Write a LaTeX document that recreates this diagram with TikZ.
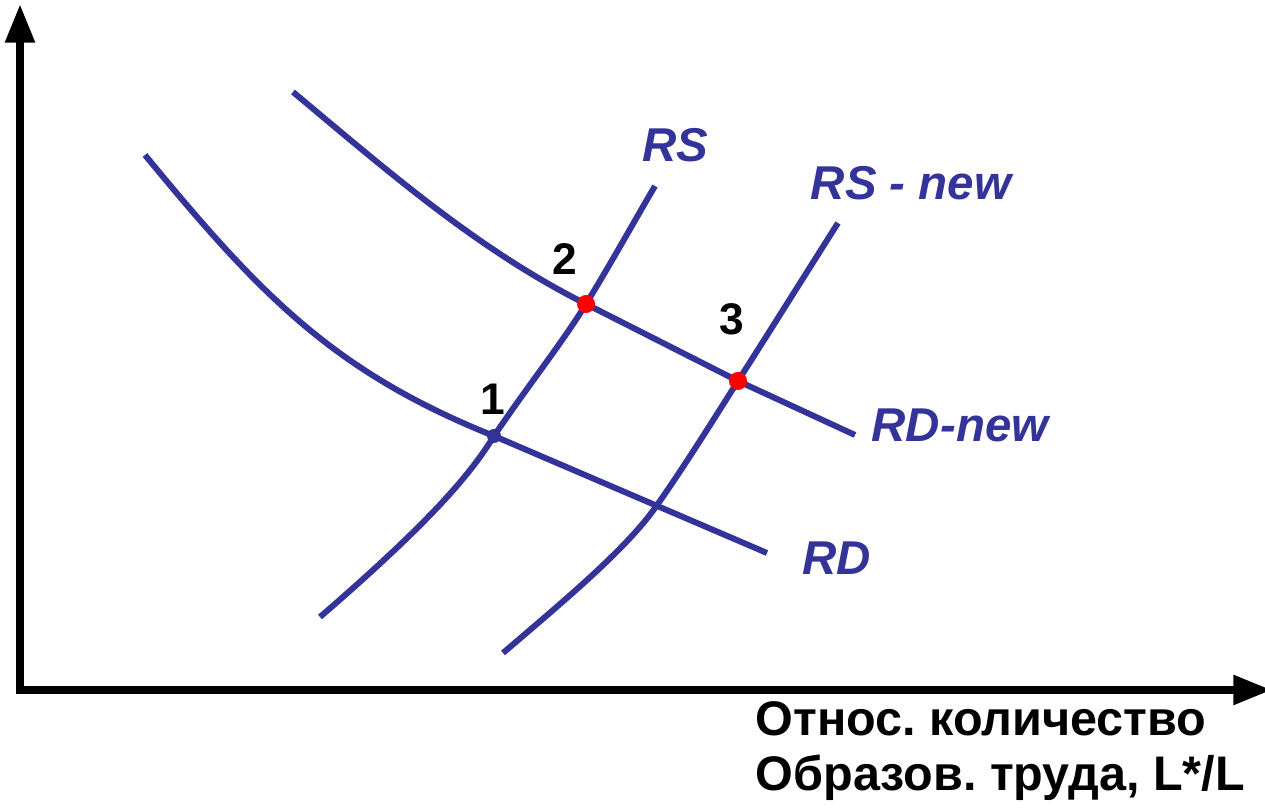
\documentclass[tikz,border=0pt]{standalone}
\usepackage{fontspec}
\setmainfont{Liberation Sans}
\usetikzlibrary{arrows.meta}
\definecolor{curveblue}{RGB}{51,51,153}
\definecolor{dotred}{RGB}{255,0,0}
\frenchspacing
\begin{document}
\begin{tikzpicture}[x=0.01cm, y=-0.01cm,
    axis/.style={
        line width=2.3pt,
        {Triangle[length=11pt,width=8pt]}-{Triangle[length=11pt,width=8pt]}
    },
    curve/.style={curveblue, line width=1.7pt},
    curve label/.style={curveblue, anchor=base, inner sep=0pt,
        font=\fontsize{13.5}{16}\selectfont\bfseries\itshape},
    point label/.style={anchor=base, inner sep=0pt,
        font=\fontsize{12.6}{14}\selectfont\bfseries},
    axis label/.style={anchor=base west, inner sep=0pt,
        font=\fontsize{13.8}{16}\selectfont\bfseries},
    eq point/.style={circle, fill=#1, inner sep=0pt, minimum size=0.18cm}
]
    \useasboundingbox (0,0) rectangle (1265,810);

    % оси
    \coordinate (ytop) at (20,4);
    \coordinate (o) at (20,690);
    \coordinate (xend) at (1272,690);
    \draw[axis] (ytop) -- (o) -- (xend);

    % точки равновесия
    \coordinate (p1) at (494,436);
    \coordinate (p2) at (586,304);
    \coordinate (p3) at (738,381);

    % кривые спроса
    \draw[curve] (145,155) .. controls (260,295) and (334,372) .. (p1)
        -- (767,553);
    \draw[curve] (293,92) .. controls (383,167) and (476,249) .. (p2)
        -- (p3) -- (855,435);

    % кривые предложения
    \draw[curve] (320,617) .. controls (430,522) and (470,475) .. (p1)
        .. controls (530,383) and (562,343) .. (p2)
        .. controls (610,265) and (635,220) .. (655,186);
    \draw[curve] (503,653) .. controls (565,600) and (625,550) .. (655,508)
        .. controls (682,470) and (712,422) .. (p3)
        .. controls (770,331) and (810,267) .. (838,223);

    \node[eq point=curveblue, minimum size=0.14cm] (d1) at (p1) {};
    \node[eq point=dotred] (d2) at (p2) {};
    \node[eq point=dotred] (d3) at (p3) {};

    \node[point label] (n1) at (493,415) {1};
    \node[point label] (n2) at (565,275) {2};
    \node[point label] (n3) at (732,335) {3};

    \node[curve label] (rs) at (675,162) {RS};
    \node[curve label] (rsnew) at (911,200) {RS - new};
    \node[curve label] (rdnew) at (960,442) {RD-new};
    \node[curve label] (rd) at (837,575) {RD};

    \node[axis label] (xl1) at (755,736) {Относ. количество};
    \node[axis label] (xl2) at (755,791) {Образов. труда, L*/L};
\end{tikzpicture}
\end{document}
